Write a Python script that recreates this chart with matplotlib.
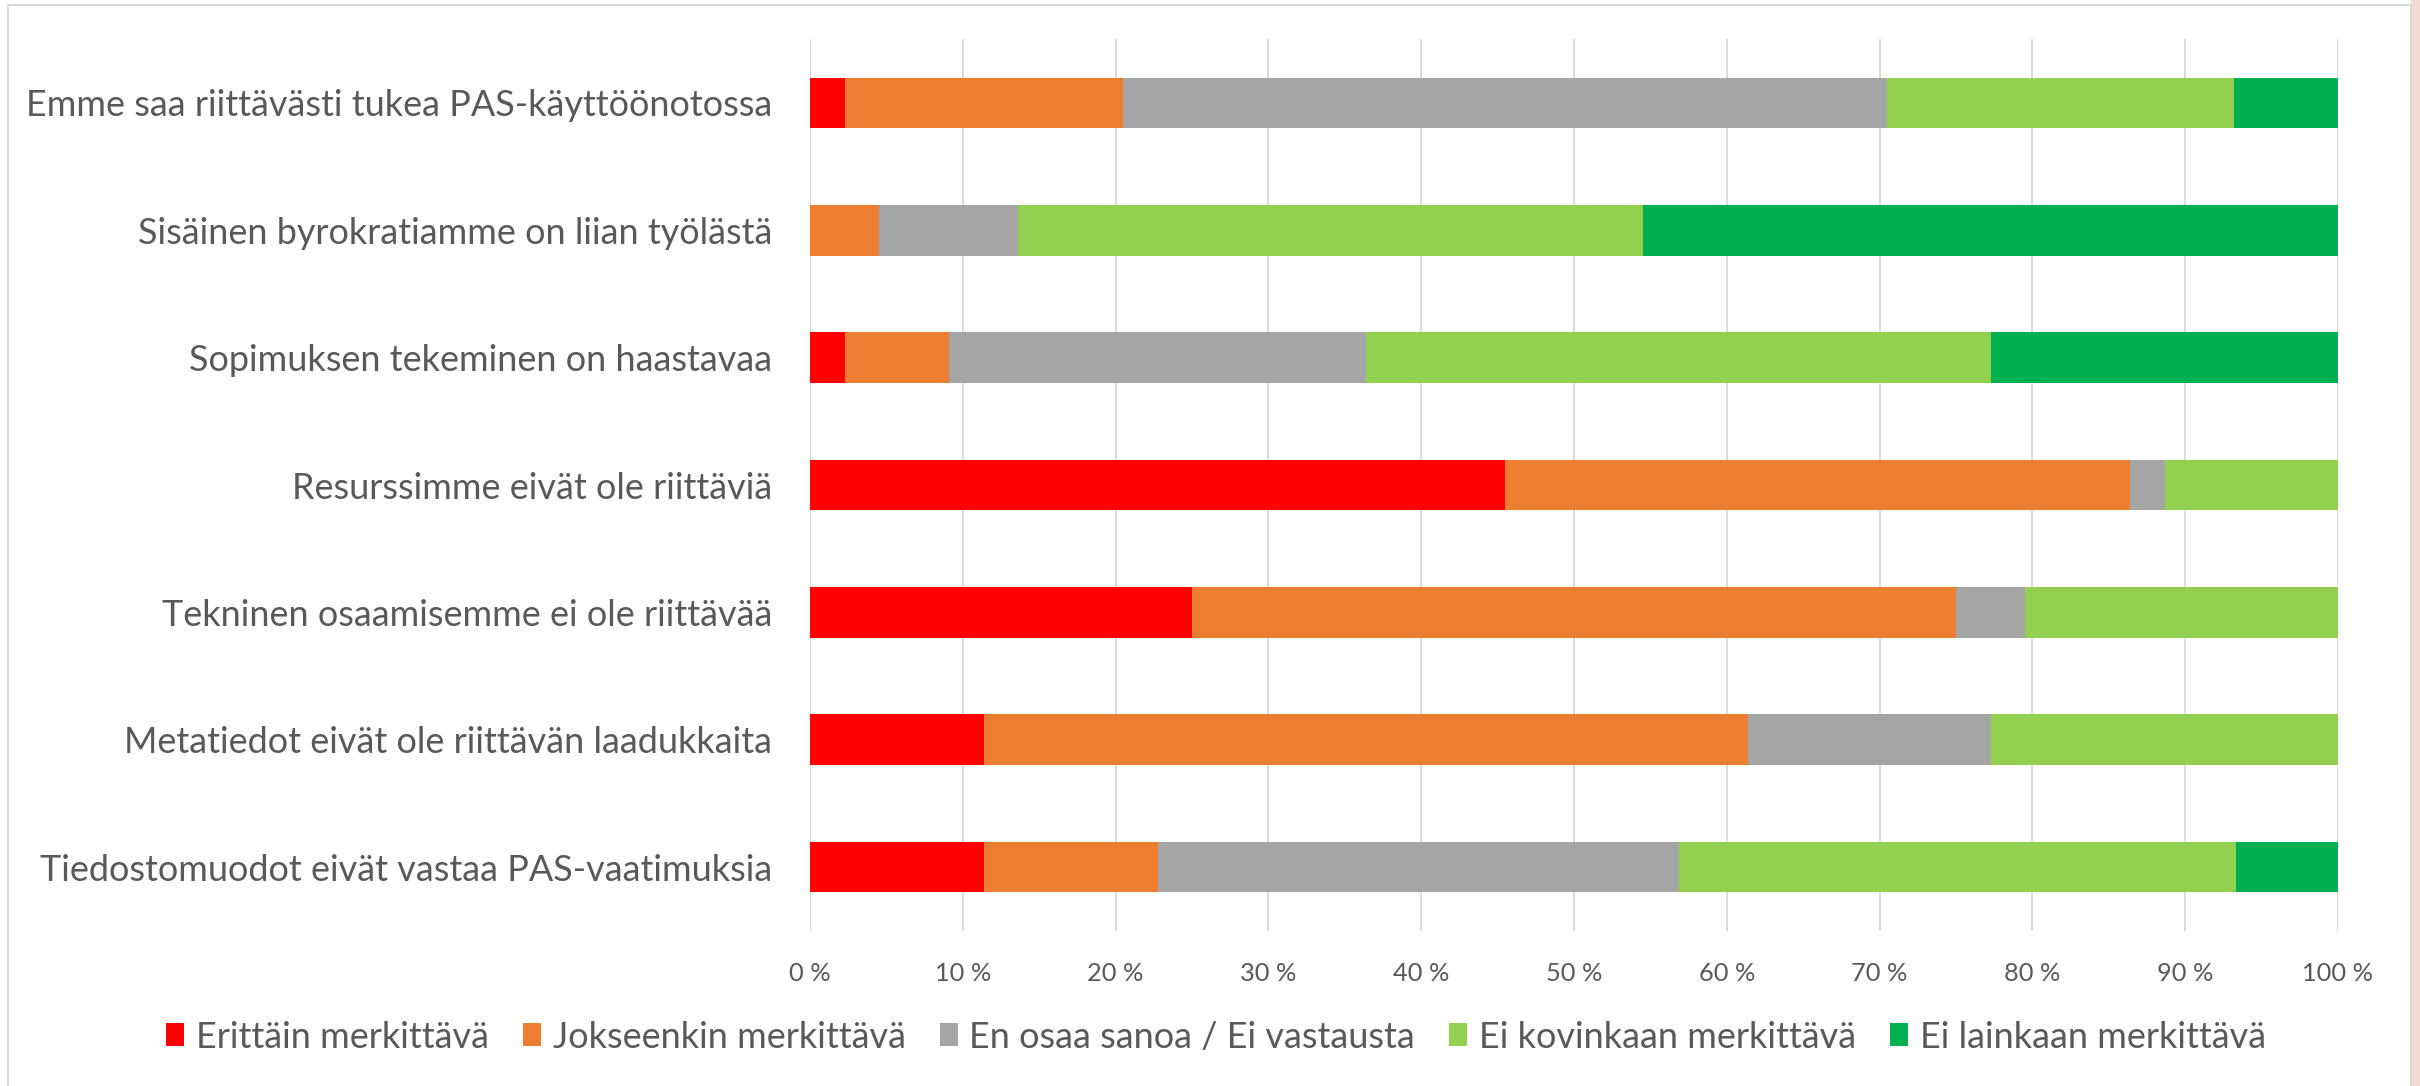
import matplotlib
matplotlib.use("Agg")
import matplotlib.pyplot as plt
from matplotlib.lines import Line2D
from matplotlib.patches import Rectangle
import numpy as np

categories = [
    "Emme saa riittävästi tukea PAS-käyttöönotossa",
    "Sisäinen byrokratiamme on liian työlästä",
    "Sopimuksen tekeminen on haastavaa",
    "Resurssimme eivät ole riittäviä",
    "Tekninen osaamisemme ei ole riittävää",
    "Metatiedot eivät ole riittävän laadukkaita",
    "Tiedostomuodot eivät vastaa PAS-vaatimuksia",
]
series_names = [
    "Erittäin merkittävä",
    "Jokseenkin merkittävä",
    "En osaa sanoa / Ei vastausta",
    "Ei kovinkaan merkittävä",
    "Ei lainkaan merkittävä",
]
erittain = [2.3, 0.0, 2.3, 45.5, 25.0, 11.4, 11.4]
jokseenkin = [18.2, 4.5, 6.8, 40.9, 50.0, 50.0, 11.4]
en_osaa = [50.0, 9.1, 27.3, 2.3, 4.5, 15.9, 34.1]
ei_kovinkaan = [22.7, 40.9, 40.9, 11.4, 20.5, 22.7, 36.4]
ei_lainkaan = [6.8, 45.5, 22.7, 0.0, 0.0, 0.0, 6.8]
colors = ["#FF0000", "#ED7D31", "#A5A5A5", "#92D050", "#00B050"]
xticks = [0, 10, 20, 30, 40, 50, 60, 70, 80, 90, 100]
xtick_labels = [f"{v} %" for v in xticks]

FONT = "Lato"
TXT = "#595959"
plt.rcParams["font.family"] = [FONT, "DejaVu Sans"]

W, H = 2420, 1086
fig = plt.figure(figsize=(W / 100, H / 100), dpi=100)
fig.patch.set_facecolor("white")

# outer frame & right-side background strip
fig.add_artist(Rectangle((2411 / W, 0), (W - 2411) / W, 1, transform=fig.transFigure,
                         facecolor="#f2d9d4", edgecolor="none", zorder=0))
fig.add_artist(Line2D([7.5 / W, 2410.5 / W], [1 - 4.5 / H, 1 - 4.5 / H], transform=fig.transFigure,
                      color="#d9d9d9", lw=1.5))
fig.add_artist(Line2D([7.5 / W, 7.5 / W], [0, 1 - 4.5 / H], transform=fig.transFigure,
                      color="#d9d9d9", lw=1.5))
fig.add_artist(Line2D([2410.5 / W, 2410.5 / W], [0, 1 - 4.5 / H], transform=fig.transFigure,
                      color="#d9d9d9", lw=1.5))

ax_l, ax_r = 810 / W, 2338 / W
ax_t, ax_b = 1 - 39.3 / H, 1 - 930.7 / H
ax = fig.add_axes([ax_l, ax_b, ax_r - ax_l, ax_t - ax_b])

data = [erittain, jokseenkin, en_osaa, ei_kovinkaan, ei_lainkaan]
y = np.arange(len(categories))
left = np.zeros(len(categories))
handles = []
for vals, name, c in zip(data, series_names, colors):
    vals = np.array(vals)
    b = ax.barh(y, vals, left=left, height=0.4, color=c, label=name, zorder=3)
    handles.append(b)
    left += vals

ax.set_xlim(0, 100)
ax.set_ylim(len(categories) - 0.5, -0.5)
ax.set_xticks(xticks)
ax.set_xticklabels(xtick_labels)
ax.set_yticks(y)
ax.set_yticklabels(categories)
ax.grid(axis="x", color="#d9d9d9", lw=1.4, zorder=0)
ax.set_axisbelow(True)
for s in ax.spines.values():
    s.set_visible(False)
ax.tick_params(axis="x", length=0, pad=22.5, labelsize=18.3, labelcolor=TXT)
ax.tick_params(axis="y", length=0, pad=27, labelsize=25.9, labelcolor=TXT)

leg = fig.legend(handles=handles, labels=series_names, loc="center",
                 bbox_to_anchor=(1216 / W, 1 - 1037 / H), ncol=5, frameon=False,
                 fontsize=25.9, handlelength=0.5, handleheight=0.6,
                 handletextpad=0.33, columnspacing=0.94)
for t in leg.get_texts():
    t.set_color(TXT)

fig.savefig("out.png", dpi=100)
